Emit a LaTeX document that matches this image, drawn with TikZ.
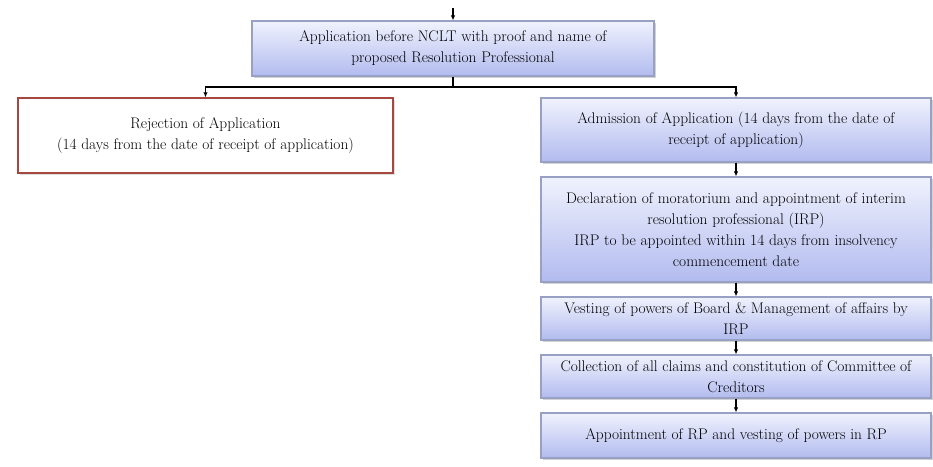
\documentclass[tikz,border=0pt]{standalone}
\usetikzlibrary{arrows.meta,shadows}
\definecolor{boxtop}{HTML}{F0F2FD}
\definecolor{boxbot}{HTML}{B2BBEF}
\definecolor{boxedge}{HTML}{98A0C4}
\definecolor{rededge}{HTML}{A8473F}
\begin{document}
\begin{tikzpicture}[x=1pt,y=-1pt,
  bluebox/.style={rectangle, draw=boxedge, line width=1.2pt, top color=boxtop, bottom color=boxbot,
    align=center, font=\fontsize{15.4}{21}\selectfont, inner sep=2pt,
    drop shadow={opacity=0.35, shadow xshift=2pt, shadow yshift=-2pt}},
  redbox/.style={rectangle, draw=rededge, line width=1.4pt, fill=white,
    align=center, font=\fontsize{15.4}{21}\selectfont, inner sep=2pt,
    drop shadow={opacity=0.25, shadow xshift=2pt, shadow yshift=-2pt}},
  conn/.style={line width=1.3pt, black},
  arr/.style={line width=1.3pt, black, -{Latex[length=5pt,width=4.5pt]}}]
\useasboundingbox[fill=white] (0,0) rectangle (933,466);

\node[bluebox, minimum width=402pt, minimum height=55pt] (top) at (453,48.5)
  {Application before NCLT with proof and name of\\ proposed Resolution Professional};
\node[redbox, minimum width=375pt, minimum height=75pt] (rej) at (205.5,135.5)
  {Rejection of Application\\ (14 days from the date of receipt of application)};
\node[bluebox, minimum width=390pt, minimum height=64pt] (adm) at (736,130)
  {Admission of Application (14 days from the date of\\ receipt of application)};
\node[bluebox, minimum width=390pt, minimum height=105pt] (dec) at (736,229.5)
  {Declaration of moratorium and appointment of interim\\ resolution professional (IRP)\\
   IRP to be appointed within 14 days from insolvency\\ commencement date};
\node[bluebox, minimum width=390pt, minimum height=43pt] (vest) at (736,318.5)
  {Vesting of powers of Board \& Management of affairs by\\ IRP};
\node[bluebox, minimum width=390pt, minimum height=43pt] (coll) at (736,376.5)
  {Collection of all claims and constitution of Committee of\\ Creditors};
\node[bluebox, minimum width=390pt, minimum height=45pt] (app) at (736,435.5)
  {Appointment of RP and vesting of powers in RP};

\coordinate (in) at (453,8);
\coordinate (hub) at (453,87);
\draw[arr] (in) -- (top.north);
\draw[conn] (top.south) -- (hub);
\draw[arr] (hub) -| (rej.north);
\draw[arr] (hub) -| (adm.north);
\draw[arr] (adm.south) -- (dec.north);
\draw[arr] (dec.south) -- (vest.north);
\draw[arr] (vest.south) -- (coll.north);
\draw[arr] (coll.south) -- (app.north);
\end{tikzpicture}
\end{document}
